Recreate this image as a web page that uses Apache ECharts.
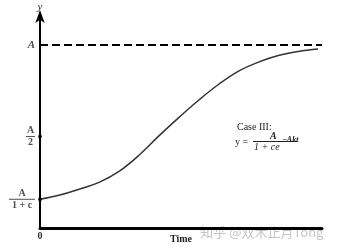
<!DOCTYPE html>
<html><head><meta charset="utf-8">
<script src="https://cdn.jsdelivr.net/npm/echarts@6/dist/echarts.min.js"></script>
<style>html,body{margin:0;padding:0;background:#fff}#c{width:338px;height:251px}</style>
</head><body><div id="c"></div>
<script>
// time (arbitrary units, 0..14)
var times = [0,1,2,3,4,5,6,7,8,9,10,11,12,13,14];
// y as a fraction of A
var values = [0.157,0.180,0.213,0.251,0.311,0.399,0.505,0.605,0.700,0.786,0.858,0.907,0.943,0.965,0.978];
var capacity = 1;                    // A
var markedValues = [0.157, 0.5];     // A/(1+c), A/2 (dots on the y axis)
var yTickValues = [0.157, 0.5, 1];
var yTickLabels = ['{n|A}\n{bar|}\n{n|1 + c}', '{n|A}\n{bar2|}\n{n|2}', '{a|A}'];
var xTickLabels = ['0'];

var serif = '"Liberation Serif","DejaVu Serif",serif';
var chart = echarts.init(document.getElementById('c'));
chart.setOption({
  animation: false,
  backgroundColor: '#fff',
  grid: {left: 40, right: 16, top: 14, bottom: 23, containLabel: false, outerBoundsMode: 'none'},
  xAxis: {
    type: 'value', min: 0, max: 14.2, interval: 20,
    name: 'Time', nameLocation: 'middle', nameGap: 6, nameMoveOverlap: false,
    nameTextStyle: {fontFamily: serif, fontSize: 10, fontWeight: 'bold', color: '#222'},
    axisLine: {lineStyle: {color: '#000', width: 3}},
    axisTick: {show: false},
    splitLine: {show: false},
    axisLabel: {showMaxLabel: false, formatter: function (v) { return v === 0 ? xTickLabels[0] : ''; },
      fontFamily: serif, fontSize: 10, fontWeight: 'bold', color: '#333', margin: 3}
  },
  yAxis: {
    type: 'value', min: 0, max: 1.17,
    name: 'y', nameGap: 1,
    nameTextStyle: {fontFamily: serif, fontSize: 11, fontStyle: 'italic', color: '#222'},
    axisLine: {symbol: ['none', 'arrow'], symbolSize: [7, 13], symbolOffset: [0, 4], lineStyle: {color: '#000', width: 2}},
    axisTick: {show: false},
    splitLine: {show: false},
    axisLabel: {show: false}
  },
  series: [
    {
      type: 'line', data: times.map(function (t, i) { return [t, values[i]]; }),
      smooth: 0.4, showSymbol: false, z: 3,
      lineStyle: {color: '#333', width: 1.5},
      markLine: {
        silent: true, symbol: 'none', label: {show: false},
        lineStyle: {color: '#000', width: 2, type: [8, 4]},
        data: [{yAxis: capacity}]
      }
    },
    {
      type: 'scatter', data: markedValues.map(function (v) { return [0, v]; }),
      symbolSize: 4, itemStyle: {color: '#000'}, z: 4
    },
    {
      type: 'scatter', symbolSize: 0, z: 4,
      data: yTickValues.map(function (v, i) { return {value: [0, v], label: {formatter: yTickLabels[i]}}; }),
      label: {
        show: true, position: 'left', distance: 5,
        rich: {
          n: {fontFamily: serif, fontSize: 10, fontWeight: 'bold', color: '#222', align: 'center', lineHeight: 10},
          bar: {width: 26, height: 1, backgroundColor: '#222', align: 'center', lineHeight: 2},
          bar2: {width: 9, height: 1, backgroundColor: '#222', align: 'center', lineHeight: 2},
          a: {fontFamily: serif, fontSize: 11, fontWeight: 'bold', fontStyle: 'italic', color: '#222'}
        }
      }
    }
  ],
  graphic: [
    {type: 'text', left: 237, top: 122, style: {text: 'Case III:', font: '10px ' + serif, fill: '#222'}},
    {type: 'text', left: 235, top: 137, style: {text: 'y =', font: '10px ' + serif, fill: '#222'}},
    {type: 'text', left: 270, top: 131, style: {text: 'A', font: 'bold italic 10px ' + serif, fill: '#222'}},
    {type: 'rect', shape: {x: 253, y: 141, width: 44, height: 1}, style: {fill: '#222'}},
    {type: 'text', left: 254, top: 142, style: {text: '1 + ce', font: 'italic 10px ' + serif, fill: '#222'}},
    {type: 'text', left: 282, top: 136, style: {text: '−Akt', font: 'italic bold 8px ' + serif, fill: '#222'}},
    {type: 'text', left: 200, top: 225, style: {text: '知乎 @双木止月Tong', font: '13px "Noto Sans CJK SC", sans-serif', fill: 'rgba(190,190,190,0.9)', stroke: '#fff', lineWidth: 0.5}}
  ]
});
</script></body></html>
